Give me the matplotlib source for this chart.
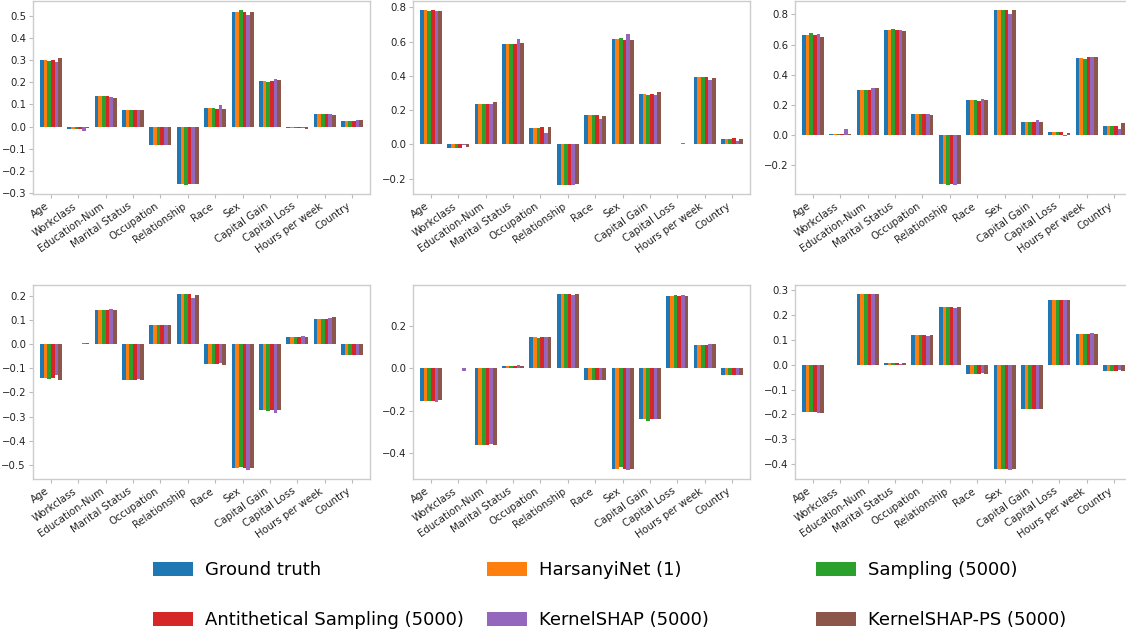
import matplotlib
matplotlib.use("Agg")
import matplotlib.pyplot as plt
import numpy as np
from matplotlib import font_manager
from matplotlib.patches import Patch

features = ["Age", "Workclass", "Education-Num", "Marital Status", "Occupation",
            "Relationship", "Race", "Sex", "Capital Gain", "Capital Loss",
            "Hours per week", "Country"]

methods = ["Ground truth", "HarsanyiNet (1)", "Sampling (5000)",
           "Antithetical Sampling (5000)", "KernelSHAP (5000)", "KernelSHAP-PS (5000)"]

colors = ["#1f77b4", "#ff7f0e", "#2ca02c", "#d62728", "#9467bd", "#8c564b"]

# Shapley values per sample: one row per method, one column per feature
sample_a = [
    [0.300, -0.012, 0.136, 0.073, -0.081, -0.259, 0.084, 0.515, 0.207, -0.006, 0.055, 0.025],
    [0.300, -0.012, 0.136, 0.073, -0.081, -0.259, 0.084, 0.515, 0.206, -0.006, 0.055, 0.025],
    [0.295, -0.012, 0.136, 0.073, -0.081, -0.264, 0.084, 0.526, 0.201, -0.006, 0.055, 0.024],
    [0.298, -0.012, 0.136, 0.073, -0.081, -0.259, 0.081, 0.514, 0.205, -0.006, 0.055, 0.025],
    [0.290, -0.018, 0.133, 0.073, -0.081, -0.259, 0.096, 0.502, 0.213, -0.006, 0.057, 0.028],
    [0.307, -0.008, 0.130, 0.073, -0.081, -0.259, 0.078, 0.515, 0.208, -0.009, 0.052, 0.030],
]
sample_b = [
    [0.786, -0.018, 0.238, 0.587, 0.096, -0.238, 0.172, 0.615, 0.293, 0.002, 0.394, 0.033],
    [0.786, -0.018, 0.238, 0.587, 0.096, -0.238, 0.172, 0.615, 0.293, 0.002, 0.394, 0.033],
    [0.777, -0.018, 0.238, 0.589, 0.096, -0.236, 0.172, 0.620, 0.289, 0.002, 0.394, 0.033],
    [0.782, -0.018, 0.238, 0.589, 0.100, -0.238, 0.172, 0.610, 0.293, 0.002, 0.394, 0.035],
    [0.780, -0.002, 0.236, 0.615, 0.068, -0.234, 0.150, 0.646, 0.287, 0.008, 0.379, 0.018],
    [0.777, -0.015, 0.246, 0.591, 0.100, -0.232, 0.166, 0.607, 0.304, 0.002, 0.390, 0.030],
]
sample_c = [
    [0.667, 0.007, 0.300, 0.698, 0.142, -0.323, 0.232, 0.829, 0.086, 0.020, 0.513, 0.064],
    [0.667, 0.007, 0.300, 0.698, 0.142, -0.323, 0.232, 0.829, 0.086, 0.020, 0.513, 0.064],
    [0.674, 0.007, 0.300, 0.703, 0.138, -0.331, 0.232, 0.829, 0.086, 0.020, 0.506, 0.062],
    [0.667, 0.007, 0.300, 0.694, 0.142, -0.323, 0.230, 0.829, 0.086, 0.020, 0.517, 0.064],
    [0.670, 0.040, 0.316, 0.700, 0.140, -0.327, 0.241, 0.804, 0.099, -0.004, 0.517, 0.044],
    [0.652, 0.005, 0.310, 0.692, 0.133, -0.323, 0.232, 0.831, 0.086, 0.018, 0.517, 0.080],
]
sample_d = [
    [-0.141, 0.001, 0.141, -0.150, 0.081, 0.208, -0.083, -0.512, -0.274, 0.028, 0.105, -0.046],
    [-0.141, 0.001, 0.141, -0.150, 0.081, 0.208, -0.083, -0.512, -0.274, 0.028, 0.105, -0.046],
    [-0.145, 0.001, 0.141, -0.150, 0.081, 0.208, -0.083, -0.508, -0.277, 0.028, 0.102, -0.046],
    [-0.140, 0.001, 0.141, -0.150, 0.081, 0.208, -0.083, -0.515, -0.274, 0.028, 0.105, -0.046],
    [-0.126, 0.005, 0.144, -0.145, 0.077, 0.190, -0.078, -0.522, -0.284, 0.032, 0.109, -0.047],
    [-0.147, 0.004, 0.140, -0.148, 0.081, 0.203, -0.085, -0.512, -0.271, 0.028, 0.112, -0.044],
]
sample_e = [
    [-0.152, 0.001, -0.362, 0.010, 0.150, 0.351, -0.054, -0.476, -0.239, 0.342, 0.111, -0.030],
    [-0.152, 0.001, -0.362, 0.010, 0.150, 0.351, -0.054, -0.476, -0.239, 0.342, 0.111, -0.030],
    [-0.152, 0.001, -0.362, 0.010, 0.146, 0.351, -0.054, -0.468, -0.247, 0.347, 0.111, -0.030],
    [-0.152, 0.001, -0.362, 0.010, 0.150, 0.351, -0.054, -0.476, -0.239, 0.342, 0.111, -0.030],
    [-0.157, -0.011, -0.356, 0.016, 0.149, 0.348, -0.054, -0.481, -0.239, 0.348, 0.117, -0.030],
    [-0.149, 0.001, -0.362, 0.011, 0.150, 0.353, -0.055, -0.476, -0.239, 0.342, 0.114, -0.030],
]
sample_f = [
    [-0.190, -0.002, 0.286, 0.007, 0.121, 0.232, -0.038, -0.420, -0.177, 0.262, 0.125, -0.026],
    [-0.190, -0.002, 0.286, 0.007, 0.121, 0.232, -0.038, -0.420, -0.177, 0.262, 0.125, -0.026],
    [-0.190, -0.002, 0.286, 0.007, 0.121, 0.232, -0.038, -0.420, -0.177, 0.262, 0.125, -0.026],
    [-0.190, -0.002, 0.286, 0.009, 0.121, 0.231, -0.038, -0.420, -0.177, 0.262, 0.125, -0.026],
    [-0.195, -0.002, 0.286, 0.002, 0.116, 0.228, -0.032, -0.425, -0.177, 0.263, 0.128, -0.022],
    [-0.193, -0.002, 0.286, 0.009, 0.121, 0.232, -0.038, -0.420, -0.177, 0.262, 0.125, -0.026],
]

samples = [sample_a, sample_b, sample_c, sample_d, sample_e, sample_f]

W, H = 1126, 636
fig = plt.figure(figsize=(W / 100, H / 100), dpi=100)

# axes boxes in pixels: (left, top, width, height)
ax_w = 337
boxes = [(33, 1, ax_w, 193), (413, 1, ax_w, 193), (795, 1, ax_w, 193),
         (33, 285, ax_w, 194), (413, 285, ax_w, 194), (795, 285, ax_w, 194)]

n_methods = len(methods)
bar_w = 0.8 / n_methods
x = np.arange(len(features))
spine_col = "#cccccc"

for data, (l, t, w, h) in zip(samples, boxes):
    ax = fig.add_axes([l / W, 1 - (t + h) / H, w / W, h / H])
    for k in range(n_methods):
        ax.bar(x + (k - (n_methods - 1) / 2) * bar_w, data[k], width=bar_w,
               color=colors[k], edgecolor="none")
    ax.set_xlim(-0.655, len(features) - 1 + 0.655)
    ax.margins(y=0.05)
    ax.set_xticks(x)
    ax.set_xticklabels(features, rotation=35, ha="right", fontsize=7.3)
    ax.tick_params(axis="both", labelsize=7.3, color="#bbbbbb", length=3, width=0.8,
                   labelcolor="#222222", pad=2)
    for s in ax.spines.values():
        s.set_color(spine_col)
        s.set_linewidth(1.0)

# legend text: narrow face if available, otherwise regular sans at matching width
installed = {f.name for f in font_manager.fontManager.ttflist}
if "Liberation Sans Narrow" in installed:
    leg_family, leg_px = "Liberation Sans Narrow", 26.0
else:
    leg_family, leg_px = "DejaVu Sans", 18.0
leg_pt = leg_px * 72 / 100

handle_len = 40 / leg_px
handle_h = 15 / leg_px
text_pad = 12 / leg_px
row_pitch = 53
labelspacing = row_pitch / leg_px - 1.16

col_lefts = [153, 487, 816]
for c, xl in enumerate(col_lefts):
    hs = [Patch(facecolor=colors[c], edgecolor="none"),
          Patch(facecolor=colors[c + 3], edgecolor="none")]
    labs = [methods[c], methods[c + 3]]
    fig.legend(hs, labs, loc="center left", bbox_to_anchor=(xl / W, 1 - 595 / H),
               frameon=False, borderpad=0, borderaxespad=0,
               handlelength=handle_len, handleheight=handle_h, handletextpad=text_pad,
               labelspacing=labelspacing,
               prop={"family": leg_family, "size": leg_pt})

fig.savefig("out.png", dpi=100)
